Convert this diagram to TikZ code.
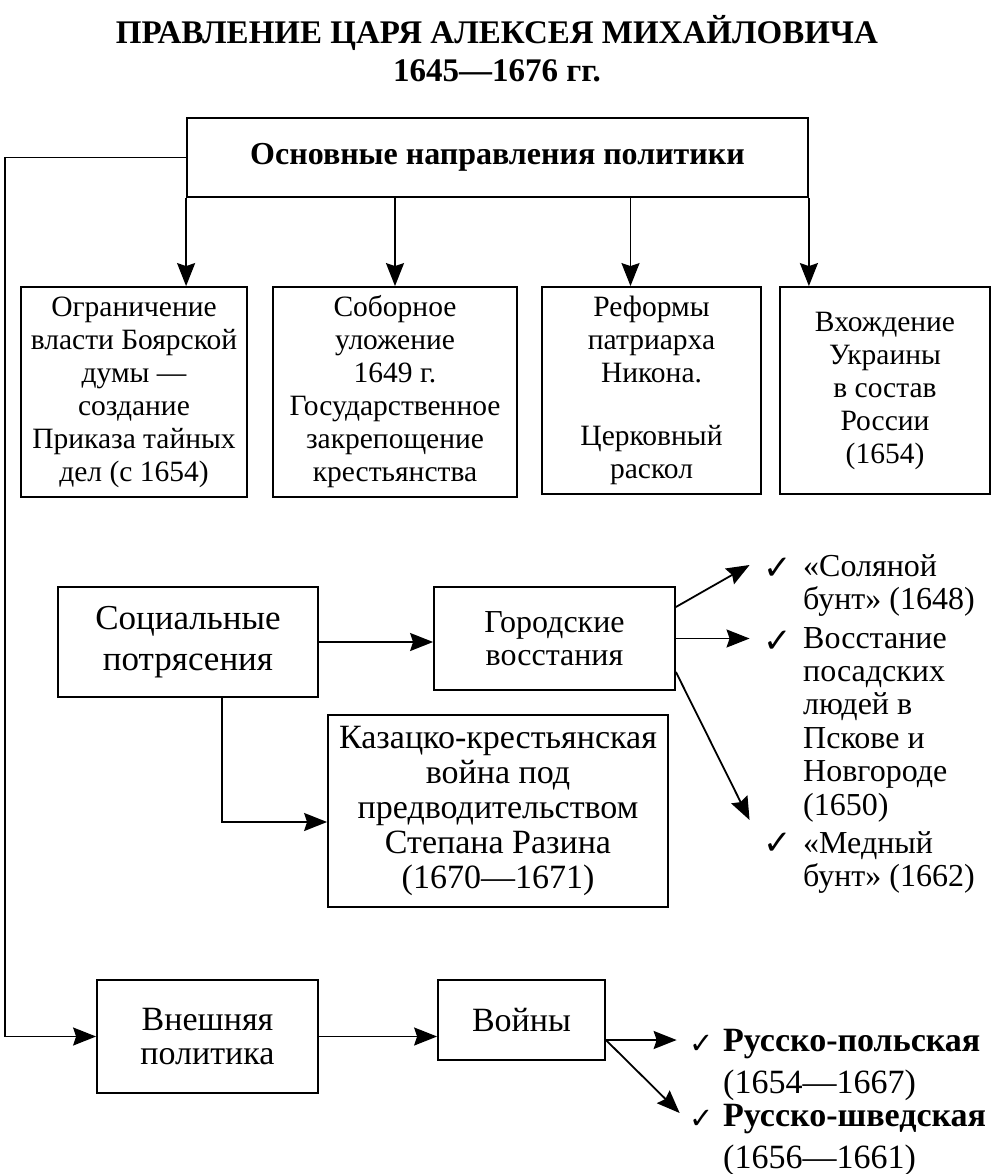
\documentclass[tikz,border=0pt]{standalone}
\usepackage{fontspec}
\setmainfont{Liberation Serif}
\newfontfamily\tickfont{DejaVu Sans}
\usetikzlibrary{arrows.meta,positioning}
\newcommand{\tick}{{\tickfont ✓}}

\begin{document}
\begin{tikzpicture}[x=1pt, y=-1pt,
  every node/.style = {align=center, inner sep=0pt},
  conn/.style = {line width=1.8pt, -{Stealth[length=23pt,width=18pt,inset=3pt]}}]
    \tikzstyle{box}=[draw, line width=1.8pt, font=\fontsize{29.5}{33}\selectfont]
    \tikzstyle{bigbox}=[box, font=\fontsize{35}{41}\selectfont]
    \tikzstyle{tickmark}=[font=\tickfont\fontsize{34}{34}\selectfont]
    \tikzstyle{smalltick}=[font=\tickfont\fontsize{29}{29}\selectfont]
    \tikzstyle{item}=[anchor=north west, align=left, font=\fontsize{32}{33.4}\selectfont]
    \tikzstyle{waritem}=[anchor=north west, align=left, font=\fontsize{34}{42}\selectfont]
  \useasboundingbox (0,0) rectangle (994,1174);
  % title
  \node[font=\bfseries\fontsize{33}{38}\selectfont] (title) at (497,49)
    {ПРАВЛЕНИЕ ЦАРЯ АЛЕКСЕЯ МИХАЙЛОВИЧА\\1645—1676 гг.};
  % main directions
  \node[box, minimum width=621, minimum height=79, font=\bfseries\fontsize{32}{33}\selectfont]
    (main) at (497.5,157.5) {Основные направления политики};
  \node[box, minimum width=226, minimum height=210] (boyar) at (134,392)
    {Ограничение\\власти Боярской\\думы —\\создание\\Приказа тайных\\дел (с 1654)};
  \node[box, minimum width=244, minimum height=210] (code) at (395,392)
    {Соборное\\уложение\\1649 г.\\Государственное\\закрепощение\\крестьянства};
  \node[box, minimum width=219, minimum height=207] (nikon) at (651.5,390.5)
    {Реформы\\патриарха\\Никона.\\[30pt]Церковный\\раскол};
  \node[box, minimum width=210, minimum height=207] (ukraine) at (885,390.5)
    {Вхождение\\Украины\\в состав\\России\\(1654)};
  \draw[conn] (main.south west) -- (main.south west |- boyar.north);
  \draw[conn] (code.north |- main.south) -- (code.north);
  \draw[conn] ([xshift=-21pt]nikon.north |- main.south) -- ([xshift=-21pt]nikon.north);
  \draw[conn] (main.south east) -- (main.south east |- ukraine.north);
  % social unrest
  \node[bigbox, minimum width=260, minimum height=110] (social) at (188,642)
    {Социальные\\потрясения};
  \node[box, minimum width=241, minimum height=103, font=\fontsize{32}{33}\selectfont]
    (urban) at (554.5,638.5) {Городские\\восстания};
  \node[box, minimum width=340, minimum height=192, font=\fontsize{34}{35}\selectfont]
    (razin) at (498,811)
    {Казацко-крестьянская\\война под\\предводительством\\Степана Разина\\(1670—1671)};
  \draw[conn] (social.east) -- (social.east -| urban.west);
  \draw[conn] ([xshift=34pt]social.south) |- ([yshift=-11pt]razin.west);
  \node[tickmark] (t1) at (778,569) {\tick};
  \node[tickmark] (t2) at (778,642) {\tick};
  \node[tickmark] (t3) at (778,844) {\tick};
  \node[item] (salt) at (803,554) {«Соляной\\бунт» (1648)};
  \node[item] (pskov) at (803,627)
    {Восстание\\посадских\\людей в\\Пскове и\\Новгороде\\(1650)};
  \node[item] (copper) at (803,831) {«Медный\\бунт» (1662)};
  \draw[conn] ([yshift=31.5pt]urban.east) -- ([xshift=-14pt,yshift=4pt]t1.west);
  \draw[conn] (urban.east) -- ([xshift=-14pt]urban.east -| t2.west);
  \draw[conn] ([yshift=-33.5pt]urban.east) -- ([xshift=-14pt,yshift=24pt]t3.west);
  % foreign policy
  \node[box, minimum width=221, minimum height=113, font=\fontsize{34}{34}\selectfont]
    (foreign) at (207.5,1036.5) {Внешняя\\политика};
  \node[box, minimum width=167, minimum height=80, font=\fontsize{34}{34}\selectfont]
    (wars) at (521.5,1020) {Войны};
  \coordinate (corner) at (5,157.5);
  \draw[line width=1.8pt] (main.west) -- (corner);
  \draw[conn] (corner) |- (foreign.west);
  \draw[conn] (foreign.east) -- (foreign.east -| wars.west);
  \node[smalltick] (w1) at (702,1044) {\tick};
  \node[smalltick] (w2) at (702,1119) {\tick};
  \node[waritem] (poland) at (723,1029) {\textbf{Русско-польская}\\(1654—1667)};
  \node[waritem] (sweden) at (723,1104) {\textbf{Русско-шведская}\\(1656—1661)};
  \draw[conn] ([yshift=-20pt]wars.east) -- ([xshift=-13pt,yshift=4pt]w1.west);
  \draw[conn] ([yshift=-20pt]wars.east) -- ([xshift=-10pt,yshift=6pt]w2.west);
\end{tikzpicture}
\end{document}
